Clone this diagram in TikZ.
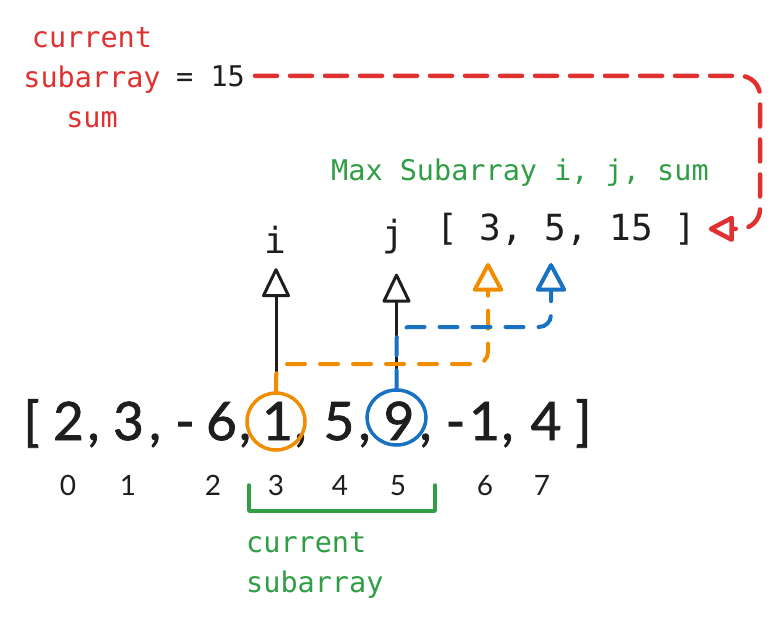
\documentclass[tikz,border=0pt]{standalone}
\usepackage{fontspec}
\setmainfont{Lato}
\newfontfamily\bigfont[FakeBold=1.5]{Lato}
\newfontfamily\handfont{DejaVu Sans Mono}
\newfontfamily\monofont{DejaVu Sans Mono}
\usetikzlibrary{arrows.meta,shapes.geometric}
\definecolor{xred}{HTML}{E03131}
\definecolor{xgreen}{HTML}{2F9E44}
\definecolor{xorange}{HTML}{F08C00}
\definecolor{xblue}{HTML}{1971C2}
\definecolor{xblack}{HTML}{1E1E1E}
\begin{document}
\begin{tikzpicture}[x=1pt,y=-1pt,
  hand/.style={font=\handfont\fontsize{28.5}{40}\selectfont, inner sep=0pt},
  big/.style={font=\bigfont\fontsize{53}{60}\selectfont, text=xblack, inner sep=0pt, anchor=base},
  idx/.style={font=\fontsize{28}{32}\selectfont, text=xblack, inner sep=0pt, anchor=base},
  code/.style={font=\monofont\fontsize{36}{40}\selectfont, text=xblack, inner sep=0pt, anchor=base},
  ptr/.style={draw=xblack, line width=3pt, line cap=round, -{Triangle[open, round, length=31pt, width=29pt]}},
  dsh/.style={line width=4pt, line cap=round, dash pattern=on 18pt off 15pt, rounded corners=12pt, -{Triangle[open, round, length=31pt, width=32pt]}},
  ring/.style={ellipse, line width=3.5pt, inner sep=0pt}]
\fill[white] (0,0) rectangle (781,625);
\useasboundingbox (0,0) rectangle (781,625);

% big array
\foreach \t/\x [count=\k] in {[/31.5, 2/68.5, {,}/93.5, 3/128.5, {,}/155, -/185, 6/221.5, {,}/245,
   1/277.5, {,}/300.5, 5/339, {,}/364.5, 9/399, {,}/425.5, -/455.5, 1/484.5, {,}/507.5, 4/546, ]/583.5}
  \node[big] (a\k) at (\x,440) {\t};

% indices
\foreach \t/\x in {0/68, 1/128, 2/213, 3/276, 4/340, 5/398, 6/485, 7/542}
  \node[idx] (idx\t) at (\x,495) {\t};

% rings
\node[ring, draw=xorange, minimum width=58pt, minimum height=57pt] (c1) at (276,421.5) {};
\node[ring, draw=xblue, minimum width=59pt, minimum height=55pt] (c2) at (396.5,417.5) {};

% pointer labels
\node[code] (i) at (275,253) {i};
\node[code] (j) at (393,246) {j};
\node[code] (maxarr) at (566.5,240) {[ 3, 5, 15 ]};

% texts
\node[hand, text=xred, align=center, anchor=base] (lbl) at (92,127) {current\\subarray\\sum};
\node[hand, text=xblack, anchor=base west] (eq) at (176,86) {= 15};
\node[hand, text=xgreen, anchor=base west] (maxlbl) at (331,180) {Max Subarray i, j, sum};
\node[hand, text=xgreen, align=left, anchor=base west] (cur) at (246,592) {current\\subarray};

% black pointers
\draw[ptr, shorten >=15pt] (c1.north) -- (c1.north |- i.south);
\draw[ptr, shorten >=20pt] (c2.north) -- (c2.north |- j.south);

% coloured dashed connectors
\coordinate (t3) at (488,263);
\coordinate (t5) at (551,263);
\coordinate (oy) at (0,364);
\coordinate (by) at (0,327);
\coordinate (rc) at (760,0);
\draw[xorange, dsh] (c1.north) -- (c1.north |- oy) -- (t3 |- oy) -- (t3);
\draw[xblue, dsh] (c2.north) -- (c2.north |- by) -- (t5 |- by) -- (t5);
\draw[xred, line width=4.5pt, line cap=round, dash pattern=on 22pt off 13pt, rounded corners=20pt,
  -{Triangle[open, round, length=28pt, width=28pt]}, shorten <=10pt, shorten >=12pt]
  (eq.east) -- (eq.east -| rc) -- (maxarr.east -| rc) -- (maxarr.east);

% green bracket
\draw[xgreen, line width=3.5pt, line cap=round, line join=round]
  (249,485) -- (249,511) -- (435,511) -- (435,485);
\end{tikzpicture}
\end{document}
